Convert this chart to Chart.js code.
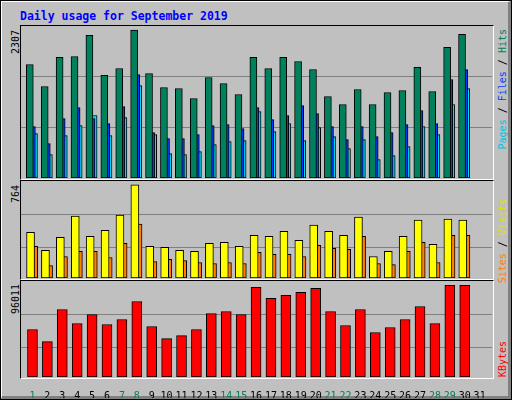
<!DOCTYPE html>
<html><head><meta charset="utf-8">
<script src="https://cdn.jsdelivr.net/npm/chart.js"></script>
<style>
body{margin:0;background:#fff}
#wrap{position:absolute;left:0;top:0;width:510px;height:398px;border:1px solid #000;background:#c0c0c0;overflow:hidden}
#inner{position:absolute;left:0;top:0;width:506px;height:394px;border-top:1px solid #fff;border-left:1px solid #fff;border-right:3px solid #808080;border-bottom:3px solid #808080}
.panel{position:absolute;border-top:1px solid #000;border-left:1px solid #000;border-right:1px solid #fff;border-bottom:1px solid #fff;box-sizing:border-box}
canvas{position:absolute}
.v{position:absolute;writing-mode:vertical-rl;transform:rotate(180deg);font-family:"DejaVu Sans Mono",monospace;font-size:10px;line-height:10px;white-space:nowrap}
#title{position:absolute;left:19px;top:8px;font-family:"DejaVu Sans Mono",monospace;font-weight:bold;font-size:11.5px;color:#0000ff}
</style></head><body>
<div id="wrap"><div id="inner"></div>
<div id="title">Daily usage for September 2019</div>
<div class="panel" style="left:19px;top:24px;width:474px;height:155px"></div>
<div class="panel" style="left:19px;top:179px;width:474px;height:100px"></div>
<div class="panel" style="left:19px;top:279px;width:474px;height:99px"></div>
<div class="v" style="left:10px;top:29px;color:#000">2307</div>
<div class="v" style="left:10px;top:184px;color:#000">764</div>
<div class="v" style="left:10px;top:283px;color:#000">96011</div>
<div class="v" style="left:497px;top:28px"><span style="color:#00c0e0">Pages</span><span style="color:#000"> / </span><span style="color:#0040ff">Files</span><span style="color:#000"> / </span><span style="color:#00805c">Hits</span></div>
<div class="v" style="left:497px;top:198px"><span style="color:#ff8000">Sites</span><span style="color:#000"> / </span><span style="color:#e0e000">Visits</span></div>
<div class="v" style="left:497px;top:340px;color:#ff0000">KBytes</div>
<canvas id="c1" style="left:20px;top:25px;width:471px;height:152px"></canvas>
<canvas id="c2" style="left:20px;top:180px;width:471px;height:97px"></canvas>
<canvas id="c3" style="left:20px;top:281px;width:471px;height:116px"></canvas>
</div>
<script>
const days=[1,2,3,4,5,6,7,8,9,10,11,12,13,14,15,16,17,18,19,20,21,22,23,24,25,26,27,28,29,30,31];
const weekend=[1,7,8,14,15,21,22,28,29];
const hits=[1770,1427,1880,1895,2223,1599,1708,2307,1630,1411,1395,1239,1567,1474,1302,1880,1708,1880,1817,1692,1271,1146,1380,1146,1333,1364,1724,1349,2036,2239,null];
const files=[802,536,927,1099,927,849,1114,1614,708,614,614,677,818,833,771,1099,911,974,1130,1005,802,599,802,646,708,833,1052,849,1536,1692,null];
const pages=[693,364,661,818,974,661,942,1442,677,380,364,411,521,568,583,1036,724,849,583,786,646,458,599,286,349,489,802,677,1146,1395,null];
const visits=[375,226,334,507,342,391,516,764,259,251,226,218,284,292,259,350,342,383,309,433,383,350,499,176,218,342,474,276,482,474,null];
const sites=[259,102,176,218,218,168,284,441,135,152,143,127,119,127,119,210,193,193,176,267,243,234,342,119,110,218,292,127,350,350,null];
const kbytes=[49757,37142,70781,56064,65525,55013,60269,79190,52910,40296,43450,49757,66576,68678,65525,93907,82344,85498,88651,92856,68678,53962,70781,46603,51859,60269,73934,56064,96011,96011,null];

function xAxis(off,show){
  return {type:'linear',min:0.13-off,max:31.73-off,display:show,offset:false,
    grid:{display:false,offset:false},border:{display:false},
    afterFit:s=>{s.height=show?21:0;},
    afterBuildTicks:s=>{s.ticks=days.map(d=>({value:d}));},
    ticks:{autoSkip:false,maxRotation:0,padding:5,font:{family:'DejaVu Sans Mono',size:10},
      color:c=>weekend.includes(c.tick.value)?'#00805c':'#000',callback:v=>String(v)}};
}
function yAxis(max,grids){
  return {min:0,max:max,display:true,ticks:{display:false},
    grid:{color:'#808080',lineWidth:1,drawTicks:false},border:{display:false},
    afterFit:s=>{s.width=0;},
    afterBuildTicks:s=>{s.ticks=grids.map(v=>({value:v}));}};
}
function ds(data,color,axis,w){
  return {data:days.map((d,i)=>({x:d,y:data[i]})),backgroundColor:color,borderColor:'#000',borderWidth:1,
    borderSkipped:false,xAxisID:axis,barThickness:w,grouped:false};
}
function make(id,datasets,scales){
  new Chart(document.getElementById(id),{type:'bar',data:{datasets},
    options:{responsive:false,animation:false,devicePixelRatio:1,
      layout:{padding:0},plugins:{legend:{display:false},tooltip:{enabled:false}},scales}});
}
Chart.defaults.font.family='DejaVu Sans Mono';
[['c1',471,152],['c2',471,97],['c3',471,116]].forEach(([id,w,h])=>{const c=document.getElementById(id);c.width=w;c.height=h;});
make('c1',[ds(hits,'#00805c','xh',7),ds(files,'#0040ff','xf',7),ds(pages,'#00e0ff','xp',7)],
  {xh:xAxis(-0.28,false),xf:xAxis(-0.14,false),xp:xAxis(0,false),y:yAxis(2370,[790,1580])});
make('c2',[ds(visits,'#ffff00','xv',8),ds(sites,'#ff8000','xs',8)],
  {xv:xAxis(-0.23,false),xs:xAxis(-0.02,false),y:yAxis(795,[251,524])});
make('c3',[ds(kbytes,'#ff0000','xk',10)],
  {xk:xAxis(-0.1,true),y:yAxis(99590,[30836,65526])});
</script>
</body></html>
